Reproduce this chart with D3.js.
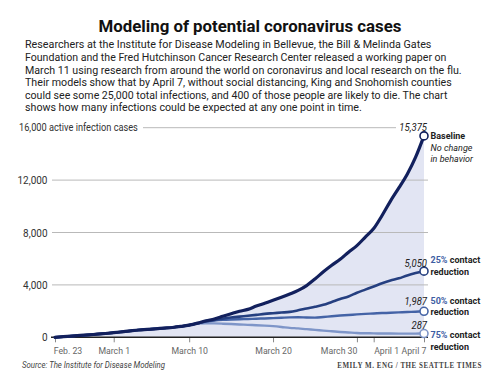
<!DOCTYPE html>
<html>
<head>
<meta charset="utf-8">
<script src="https://cdn.jsdelivr.net/npm/d3@7"></script>
<style>
    body { margin: 0; background: #fff; }
    svg text { font-family: Roboto, "Noto Sans", sans-serif; fill: #222; }
</style>
</head>
<body>
<div id="chart"></div>
<script>
// one value per day, Feb. 23 - April 7, 2020
const dates = d3.timeDay.range(new Date(2020, 1, 23), new Date(2020, 3, 8));

const baseline = [0, 45, 95, 140, 185, 240, 290, 350, 420, 490, 555, 600, 650, 700, 750, 830, 930, 1080,
    1260, 1400, 1600, 1800, 1990, 2130, 2380, 2600, 2820, 3050, 3300, 3580, 3950, 4450, 5000, 5500,
    5950, 6500, 7000, 7650, 8300, 9300, 10400, 11400, 12450, 13750, 15375];
const reduce25 = [0, 45, 95, 140, 185, 240, 290, 350, 420, 490, 555, 600, 650, 700, 750, 830, 930, 1070,
    1220, 1330, 1420, 1510, 1580, 1640, 1710, 1790, 1840, 1890, 1940, 2060, 2200, 2330, 2480, 2700,
    2920, 3120, 3400, 3640, 3880, 4130, 4330, 4500, 4720, 4900, 5050];
const reduce50 = [0, 45, 95, 140, 185, 240, 290, 350, 420, 490, 555, 600, 650, 700, 750, 830, 930, 1060,
    1200, 1280, 1330, 1360, 1380, 1400, 1420, 1440, 1460, 1490, 1520, 1530, 1510, 1500, 1550, 1610,
    1660, 1700, 1750, 1790, 1820, 1850, 1870, 1900, 1930, 1950, 1987];
const reduce75 = [0, 45, 95, 140, 185, 240, 290, 350, 420, 490, 555, 600, 650, 700, 750, 830, 930, 1040,
    1070, 1060, 1040, 1010, 980, 950, 920, 890, 850, 790, 720, 680, 620, 570, 510, 460,
    410, 370, 330, 310, 300, 290, 285, 280, 280, 283, 287];

const yTicks = [0, 4000, 8000, 12000];
const xTickDates = [new Date(2020, 1, 23), new Date(2020, 2, 1), new Date(2020, 2, 10), new Date(2020, 2, 20),
    new Date(2020, 2, 30), new Date(2020, 3, 1), new Date(2020, 3, 7)];
const xTickLabels = ["Feb. 23", "March 1", "March 10", "March 20", "March 30", "April 1", "April 7"];

const series = [
    { key: "75", values: reduce75, color: "#7e95c8", width: 2.4, pct: "75%", lab: 4.5, val: -4.5 },
    { key: "50", values: reduce50, color: "#4463a6", width: 2.4, pct: "50%", lab: -7.3, val: -6 },
    { key: "25", values: reduce25, color: "#253f80", width: 2.6, pct: "25%", lab: -8, val: -4 },
    { key: "base", values: baseline, color: "#12205d", width: 3.2, pct: null, lab: 3.6, val: -5 }
];

const width = 500, height = 383;
const svg = d3.select("#chart").append("svg")
    .attr("width", width)
    .attr("height", height);

const x = d3.scaleTime()
    .domain([dates[0], dates[dates.length - 1]])
    .range([55, 424]);
const y = d3.scaleLinear()
    .domain([0, 16000])
    .range([337.3, 127.7]);

// text helper: squeeze glyphs to a measured width (the original face is condensed)
function label(g, str, px, py, o = {}) {
    const t = g.append("text")
        .attr("text-anchor", o.anchor || "start")
        .style("font-size", (o.size || 10) + "px")
        .style("font-weight", o.bold ? "bold" : null)
        .style("font-style", o.italic ? "italic" : null)
        .text(str);
    if (o.fill) t.style("fill", o.fill);
    if (o.family) t.style("font-family", o.family);
    if (o.spacing) t.style("letter-spacing", o.spacing + "px");
    let sx = o.sx || 1;
    if (o.w) sx = o.w / t.node().getComputedTextLength();
    t.attr("transform", `translate(${px},${py}) scale(${sx},1)`);
    return t;
}

// title + intro
label(svg, "Modeling of potential coronavirus cases", 250, 32.3, { anchor: "middle", size: 17, bold: true, w: 303, fill: "#111" });

const intro = [
    ["Researchers at the Institute for Disease Modeling in Bellevue, the Bill & Melinda Gates", 407],
    ["Foundation and the Fred Hutchinson Cancer Research Center released a working paper on", 422],
    ["March 11 using research from around the world on coronavirus and local research on the flu.", 437],
    ["Their models show that by April 7, without social distancing, King and Snohomish counties", 427],
    ["could see some 25,000 total infections, and 400 of those people are likely to die. The chart", 423],
    ["shows how many infections could be expected at any one point in time.", 337]
];
intro.forEach(([s, w], i) => label(svg, s, 25, 48.3 + i * 12.6, { size: 10.6, w: w }));

// shaded area under baseline
svg.append("path")
    .datum(baseline)
    .attr("fill", "#e2e5f3")
    .attr("d", d3.area()
        .x((d, i) => x(dates[i]))
        .y0(y(0))
        .y1(d => y(d))
        .curve(d3.curveMonotoneX));

// gridlines + y labels
const grid = svg.append("g");
grid.selectAll("line")
    .data(yTicks.slice(1))
    .join("line")
    .attr("x1", 52).attr("x2", 428)
    .attr("y1", d => y(d)).attr("y2", d => y(d))
    .attr("stroke", "#b9b9b9").attr("stroke-width", 1);
grid.append("line")
    .attr("x1", 143).attr("x2", 396)
    .attr("y1", y(16000)).attr("y2", y(16000))
    .attr("stroke", "#b9b9b9").attr("stroke-width", 1);

const yAxis = svg.append("g")
    .attr("transform", "translate(47.5,0)")
    .call(d3.axisLeft(y).tickValues(yTicks).tickSize(0).tickPadding(0).tickFormat(d3.format(",")));
yAxis.select(".domain").remove();
yAxis.selectAll("text")
    .style("font-family", "Roboto, sans-serif")
    .style("font-size", "10px")
    .style("fill", "#333")
    .attr("dy", "0.35em")
    .attr("x", 0);

label(svg, "16,000 active infection cases", 19, y(16000) + 3.5, { size: 10, w: 119, fill: "#333" });
label(svg, d3.format(",")(baseline[baseline.length - 1]), 427, y(baseline[baseline.length - 1]) - 5,
    { anchor: "end", size: 10, italic: true, sx: 0.95 });

// x axis
const xAxis = svg.append("g")
    .attr("transform", `translate(0,${y(0)})`)
    .call(d3.axisBottom(x).tickValues(xTickDates).tickSize(5).tickFormat((d, i) => xTickLabels[i]));
xAxis.select(".domain").remove();
xAxis.selectAll("line").attr("stroke", "#888");
xAxis.selectAll("text")
    .style("font-family", "Roboto, sans-serif")
    .style("font-size", "9.5px")
    .style("fill", "#666")
    .attr("y", 10)
    .attr("dy", "0.71em")
    .attr("text-anchor", (d, i) => i === 0 || i === 5 ? "start" : (i === 4 || i === 6 ? "end" : "middle"))
    .attr("x", (d, i) => i === 0 ? -2 : (i === 6 ? 2 : 0))
    .attr("transform", "scale(0.92,1)");
svg.append("line")
    .attr("x1", 51).attr("x2", 428)
    .attr("y1", y(0)).attr("y2", y(0))
    .attr("stroke", "#222").attr("stroke-width", 1.6);

// lines
const line = d3.line()
    .x((d, i) => x(dates[i]))
    .y(d => y(d))
    .curve(d3.curveMonotoneX);

svg.append("g")
    .selectAll("path")
    .data(series)
    .join("path")
    .attr("fill", "none")
    .attr("stroke", d => d.color)
    .attr("stroke-width", d => d.width)
    .attr("stroke-linejoin", "round")
    .attr("stroke-linecap", "round")
    .attr("d", d => line(d.values));

svg.append("g")
    .selectAll("circle")
    .data(series)
    .join("circle")
    .attr("cx", x(dates[dates.length - 1]))
    .attr("cy", d => y(d.values[d.values.length - 1]))
    .attr("r", 4)
    .attr("fill", "#fff")
    .attr("stroke", d => d.color)
    .attr("stroke-width", 1.6);

// end labels
const labels = svg.append("g");
const lx = 430.5, lsize = 9.8, lsx = 0.92;
series.forEach(s => {
    const last = s.values[s.values.length - 1];
    const cy = y(last);
    if (s.key !== "base") {
        label(labels, d3.format(",")(last), 427, cy + s.val, { anchor: "end", size: 10, italic: true, sx: 0.95 });
        const p = label(labels, s.pct, lx, cy + s.lab, { size: lsize, bold: true, fill: "#3d5da3", sx: lsx });
        const pw = p.node().getComputedTextLength() * lsx;
        label(labels, "contact", lx + pw + 2.3, cy + s.lab, { size: lsize, bold: true, sx: lsx });
        label(labels, "reduction", lx, cy + s.lab + 11.5, { size: lsize, bold: true, sx: lsx });
    } else {
        label(labels, "Baseline", lx, cy + s.lab, { size: lsize, bold: true, sx: lsx });
        label(labels, "No change", lx, cy + s.lab + 11.3, { size: lsize, italic: true, sx: lsx });
        label(labels, "in behavior", lx, cy + s.lab + 22.6, { size: lsize, italic: true, sx: lsx });
    }
});

// footer
label(svg, "Source: The Institute for Disease Modeling", 22, 368, { size: 9.2, italic: true, w: 143, fill: "#444" });
label(svg, "EMILY M. ENG / THE SEATTLE TIMES", 482, 368,
    { anchor: "end", size: 8, bold: true, family: "'Liberation Serif', 'DejaVu Serif', serif", spacing: 0.6, w: 145, fill: "#444" });
</script>
</body>
</html>
